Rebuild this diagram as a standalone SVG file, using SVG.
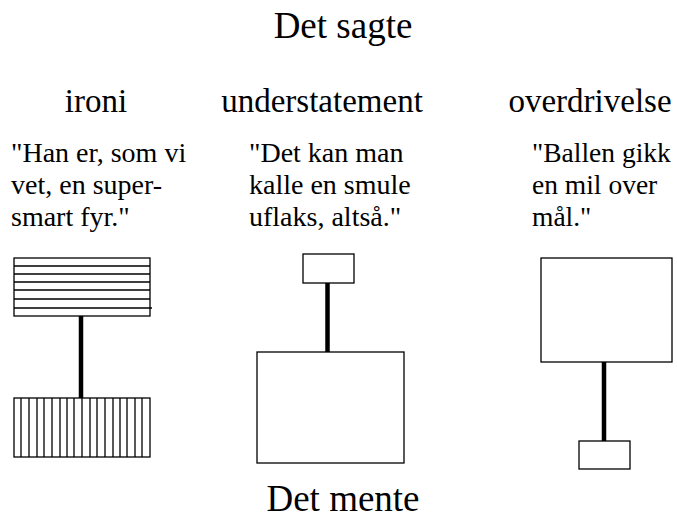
<svg xmlns="http://www.w3.org/2000/svg" width="677" height="519" viewBox="0 0 677 519">
<style>
.t{font-family:"Liberation Serif","Times New Roman",serif;fill:#000}
.title{font-size:37px;text-anchor:middle}
.hd{font-size:33px;text-anchor:middle}
.q{font-size:28px}
.qr{font-size:27.5px}
.box{fill:#fff;stroke:#000;stroke-width:1.3}
.hatch{stroke:#000;stroke-width:1.3;fill:none}
.conn{stroke:#000;stroke-width:4.5;fill:none}
</style>
<rect width="677" height="519" fill="#fff"/>
<text class="t title" x="343" y="38">Det sagte</text>
<text class="t title" x="343" y="511">Det mente</text>

<g id="ironi">
<text class="t hd" x="96" y="112">ironi</text>
<text class="t q"><tspan x="11" y="162">"Han er, som vi</tspan><tspan x="11" y="194">vet, en super-</tspan><tspan x="11" y="226">smart fyr."</tspan></text>
</g>
<g id="understatement">
<text class="t hd" x="322" y="112">understatement</text>
<text class="t q"><tspan x="249" y="162">"Det kan man</tspan><tspan x="249" y="194">kalle en smule</tspan><tspan x="249" y="226">uflaks, altså."</tspan></text>
</g>
<g id="overdrivelse">
<text class="t hd" x="590" y="112">overdrivelse</text>
<text class="t qr"><tspan x="532" y="162">"Ballen gikk</tspan><tspan x="532" y="194">en mil over</tspan><tspan x="532" y="226">mål."</tspan></text>
</g>

<g id="ironi-sagt">
<rect class="box" x="14" y="258" width="136" height="58"/>
<path class="hatch" d="M14 266H150M14 274H150M14 282H150M14 290H150M14 299H150M14 308H152"/>
</g>
<g id="ironi-ment">
<rect class="box" x="14" y="398" width="136" height="59"/>
<path class="hatch" d="M21 398V457M29 398V457M37 398V457M44 398V457M52 398V457M60 398V457M67 398V457M74 398V457M82 398V457M90 398V457M97 398V457M105 398V457M113 398V457M120 398V457M127 398V457M135 398V457M142 398V457"/>
</g>
<g id="under-sagt"><rect class="box" x="303" y="254" width="51" height="29"/></g>
<g id="under-ment"><rect class="box" x="257" y="352" width="147" height="111"/></g>
<g id="over-sagt"><rect class="box" x="541" y="258" width="131" height="104"/></g>
<g id="over-ment"><rect class="box" x="579" y="441" width="51" height="28"/></g>

<g id="connectors">
<line class="conn" x1="81" y1="316" x2="81" y2="398"/>
<line class="conn" x1="327.5" y1="283" x2="327.5" y2="352"/>
<line class="conn" x1="604" y1="362" x2="604" y2="441"/>
</g>
</svg>
